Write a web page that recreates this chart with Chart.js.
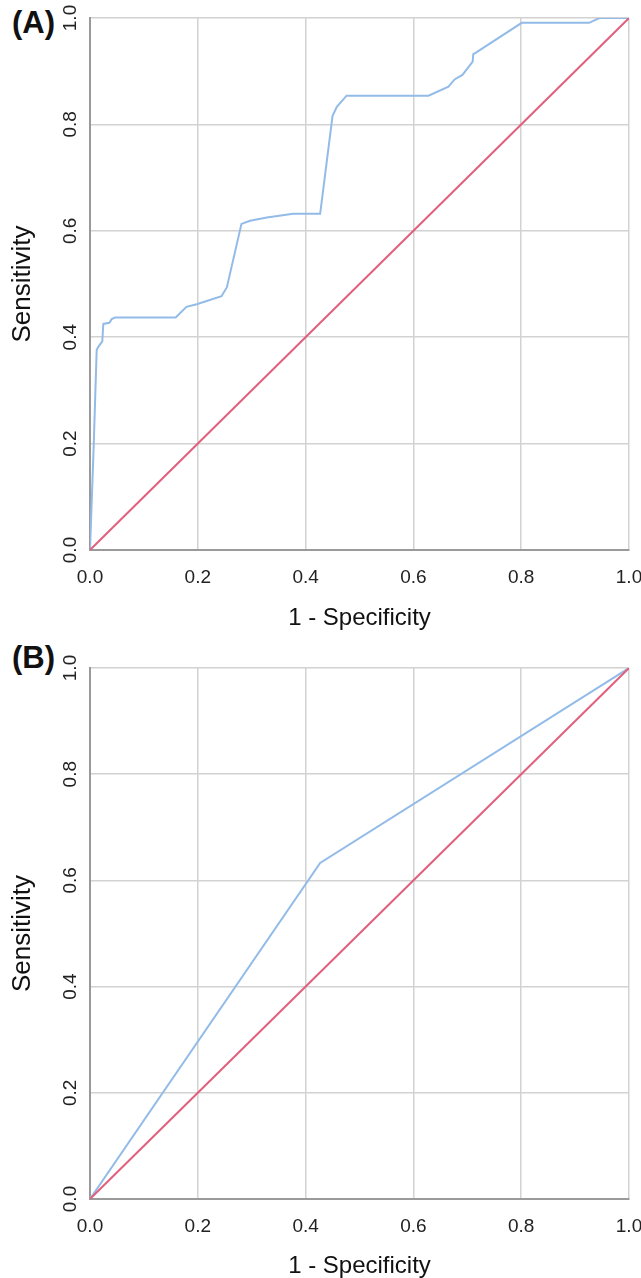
<!DOCTYPE html>
<html>
<head>
<meta charset="utf-8">
<script src="https://cdn.jsdelivr.net/npm/chart.js@4/dist/chart.umd.min.js"></script>
<style>
  html, body { margin: 0; padding: 0; background: #fff; }
  body { width: 641px; height: 1278px; position: relative; overflow: hidden; }
  canvas { position: absolute; left: 0; }
  .panel { position: absolute; font-family: "Liberation Sans", Arial, sans-serif; font-weight: bold; font-size: 31px; color: #111; line-height: 1; }
</style>
</head>
<body>
<div class="panel" style="left:12px; top:7px;">(A)</div>
<div class="panel" style="left:12px; top:642px;">(B)</div>
<canvas id="cA" width="641" height="640" style="top:0px"></canvas>
<canvas id="cB" width="641" height="638" style="top:640px"></canvas>
<script>
// ---- Data ----
const tickValues = [0.0, 0.2, 0.4, 0.6, 0.8, 1.0];

// Panel A ROC curve (1 - Specificity, Sensitivity)
const rocA_fpr = [0, 0.007, 0.0124, 0.0154, 0.0228, 0.0247, 0.0358, 0.0403, 0.0464, 0.159, 0.179, 0.198, 0.244, 0.254, 0.281, 0.297, 0.328, 0.377, 0.427, 0.450, 0.458, 0.476, 0.628, 0.665, 0.671, 0.677, 0.691, 0.710, 0.711, 0.716, 0.801, 0.926, 0.945, 1.0];
const rocA_tpr = [0, 0.200, 0.376, 0.382, 0.392, 0.425, 0.427, 0.434, 0.437, 0.437, 0.457, 0.462, 0.477, 0.494, 0.613, 0.619, 0.625, 0.632, 0.632, 0.816, 0.833, 0.854, 0.854, 0.871, 0.878, 0.885, 0.893, 0.918, 0.932, 0.935, 0.991, 0.991, 1.0, 1.0];

// Panel B ROC curve
const rocB_fpr = [0, 0.427, 1.0];
const rocB_tpr = [0, 0.633, 1.0];

// Reference line
const refX = [0, 1];
const refY = [0, 1];

const xTitle = '1 - Specificity';
const yTitle = 'Sensitivity';

// ---- Helpers ----
const FONT = '"Liberation Sans", Arial, sans-serif';
const pts = (xs, ys) => xs.map((x, i) => ({ x: x, y: ys[i] }));

function makeChart(id, curveX, curveY, pad, xAxisH, titlePadBottom) {
  const ctx = document.getElementById(id);
  return new Chart(ctx, {
    type: 'scatter',
    data: {
      datasets: [
        {
          data: pts(curveX, curveY),
          showLine: true,
          borderColor: '#93bbe8',
          borderWidth: 2,
          pointRadius: 0,
          tension: 0,
          order: 2
        },
        {
          data: pts(refX, refY),
          showLine: true,
          borderColor: '#e0607e',
          borderWidth: 2,
          pointRadius: 0,
          order: 1
        }
      ]
    },
    options: {
      responsive: false,
      animation: false,
      devicePixelRatio: 1,
      layout: { padding: pad },
      plugins: { legend: { display: false }, tooltip: { enabled: false } },
      scales: {
        x: {
          type: 'linear', min: 0, max: 1,
          afterBuildTicks: (s) => { s.ticks = tickValues.map(v => ({ value: v })); },
          afterFit: (s) => { s.height = xAxisH; s.paddingLeft = 0; s.paddingRight = 0; },
          grid: { color: '#d2d2d2', lineWidth: 1.5, drawTicks: false },
          border: { color: '#9a9a9a', width: 2 },
          ticks: {
            padding: 16,
            color: '#222',
            font: { family: FONT, size: 19 },
            maxRotation: 0,
            callback: (v) => Number(v).toFixed(1)
          },
          title: {
            display: true, text: xTitle, color: '#111',
            font: { family: FONT, size: 24, lineHeight: 1 },
            padding: { top: 0, bottom: titlePadBottom }
          }
        },
        y: {
          type: 'linear', min: 0, max: 1,
          afterBuildTicks: (s) => { s.ticks = tickValues.map(v => ({ value: v })); },
          afterFit: (s) => { s.width = 90; s.paddingTop = 0; s.paddingBottom = 0; },
          grid: { color: '#d2d2d2', lineWidth: 1.5, drawTicks: false },
          border: { color: '#9a9a9a', width: 2 },
          ticks: {
            padding: 6,
            color: '#222',
            crossAlign: 'center',
            minRotation: 90,
            maxRotation: 90,
            font: { family: FONT, size: 19 },
            callback: (v) => Number(v).toFixed(1)
          },
          title: {
            display: true, text: yTitle, color: '#111',
            font: { family: FONT, size: 26, lineHeight: 1 },
            padding: { top: 10, bottom: 0 }
          }
        }
      }
    }
  });
}

makeChart('cA', rocA_fpr, rocA_tpr, { top: 18, right: 12, left: 0, bottom: 0 }, 90, 10);
makeChart('cB', rocB_fpr, rocB_tpr, { top: 28, right: 12, left: 0, bottom: 0 }, 79, 0);
</script>
</body>
</html>
